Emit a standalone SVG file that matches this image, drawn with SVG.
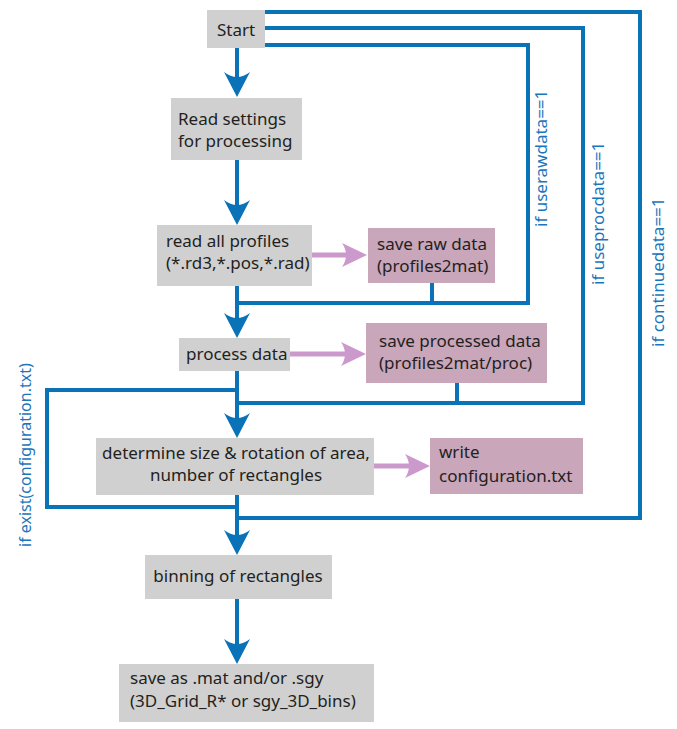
<svg xmlns="http://www.w3.org/2000/svg" width="677" height="729" viewBox="0 0 677 729">
<style>
.box{fill:#d0d0d0}
.pbox{fill:#c9a6b9}
.t{font-family:"Noto Sans","Open Sans",sans-serif;font-size:17px;fill:#231f20}
.lbl{font-family:"Noto Sans","Open Sans",sans-serif;font-size:17px;fill:#1b75bb}
.ln{fill:none;stroke:#0a72b6;stroke-width:4;stroke-linejoin:miter}
.pl{fill:none;stroke:#cc99cc;stroke-width:5}
</style>
<defs>
<path id="ah" d="M0,0 L-13,-25 Q0,-15 13,-25 Z" fill="#0a72b6"/>
<path id="ph" d="M0,0 L-25,-12 Q-17,0 -25,12 Z" fill="#cc99cc"/>
</defs>
<rect width="677" height="729" fill="#ffffff"/>
<g id="connectors">
<polyline class="ln" points="265,12 640,12 640,518 237,518"/>
<polyline class="ln" points="265,28 583,28 583,403 237,403"/>
<polyline class="ln" points="265,45 528,45 528,303 237,303"/>
<line class="ln" x1="432" y1="283" x2="432" y2="303"/>
<line class="ln" x1="457" y1="383" x2="457" y2="403"/>
<polyline class="ln" points="237,390 47,390 47,507 237,507"/>
<line class="ln" x1="237" y1="48" x2="237" y2="85"/>
<line class="ln" x1="237" y1="160" x2="237" y2="213"/>
<line class="ln" x1="237" y1="286" x2="237" y2="326"/>
<line class="ln" x1="237" y1="371" x2="237" y2="426"/>
<line class="ln" x1="237" y1="495" x2="237" y2="543"/>
<line class="ln" x1="237" y1="599" x2="237" y2="652"/>
<use href="#ah" x="237" y="97"/>
<use href="#ah" x="237" y="225"/>
<use href="#ah" x="237" y="338"/>
<use href="#ah" x="237" y="438"/>
<use href="#ah" x="237" y="555"/>
<use href="#ah" x="237" y="664"/>
<line class="pl" x1="312" y1="255" x2="352" y2="255"/>
<use href="#ph" x="367" y="255"/>
<line class="pl" x1="290" y1="354" x2="352" y2="354"/>
<use href="#ph" x="366" y="354"/>
<line class="pl" x1="374" y1="466" x2="415" y2="466"/>
<use href="#ph" x="430" y="466"/>
<text class="lbl" transform="translate(547,227) rotate(-90)">if userawdata==1</text>
<text class="lbl" transform="translate(604,285) rotate(-90)">if useprocdata==1</text>
<text class="lbl" transform="translate(664,347) rotate(-90)">if continuedata==1</text>
<text class="lbl" transform="translate(31,547) rotate(-90)" style="font-size:16px">if exist(configuration.txt)</text>
</g>
<g id="start">
<rect class="box" x="207" y="10" width="58" height="38"/>
<text class="t" x="236" y="36" text-anchor="middle">Start</text>
</g>
<g id="read-settings">
<rect class="box" x="171" y="98" width="131" height="62"/>
<text class="t" x="178" y="125">Read settings</text>
<text class="t" x="178" y="147">for processing</text>
</g>
<g id="read-profiles">
<rect class="box" x="157" y="225" width="155" height="61"/>
<text class="t" x="166" y="247">read all profiles</text>
<text class="t" x="166" y="269">(*.rd3,*.pos,*.rad)</text>
</g>
<g id="save-raw">
<rect class="pbox" x="368" y="228" width="127" height="55"/>
<text class="t" x="377" y="250">save raw data</text>
<text class="t" x="377" y="272">(profiles2mat)</text>
</g>
<g id="process">
<rect class="box" x="179" y="338" width="111" height="33"/>
<text class="t" x="186" y="360">process data</text>
</g>
<g id="save-processed">
<rect class="pbox" x="366" y="323" width="181" height="60"/>
<text class="t" x="379" y="347">save processed data</text>
<text class="t" x="379" y="369">(profiles2mat/proc)</text>
</g>
<g id="determine">
<rect class="box" x="96" y="438" width="278" height="57"/>
<text class="t" x="236" y="459" text-anchor="middle">determine size &amp; rotation of area,</text>
<text class="t" x="236" y="481" text-anchor="middle">number of rectangles</text>
</g>
<g id="write-config">
<rect class="pbox" x="430" y="438" width="153" height="56"/>
<text class="t" x="439" y="458">write</text>
<text class="t" x="439" y="482">configuration.txt</text>
</g>
<g id="binning">
<rect class="box" x="145" y="555" width="187" height="44"/>
<text class="t" x="238" y="582" text-anchor="middle">binning of rectangles</text>
</g>
<g id="save-as">
<rect class="box" x="119" y="664" width="255" height="58"/>
<text class="t" x="130" y="684">save as .mat and/or .sgy</text>
<text class="t" x="130" y="707">(3D_Grid_R* or sgy_3D_bins)</text>
</g>
</svg>
